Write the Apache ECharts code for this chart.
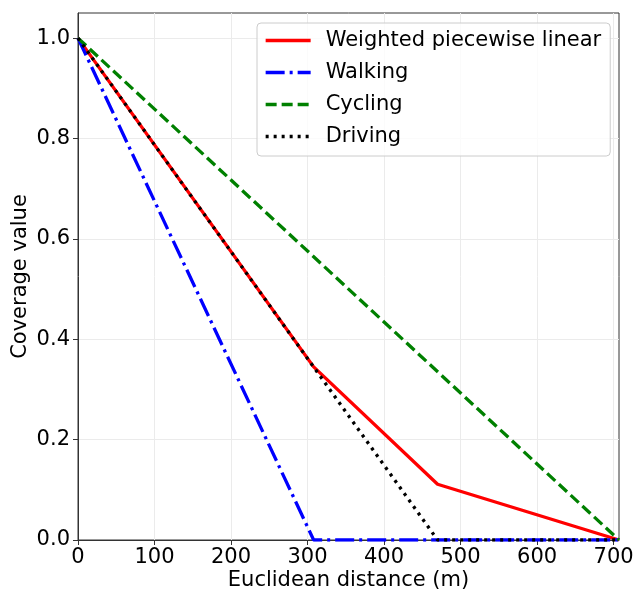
<!DOCTYPE html>
<html>
<head>
<meta charset="utf-8">
<script src="https://cdn.jsdelivr.net/npm/echarts@6/dist/echarts.min.js"></script>
<style>
  html, body { margin: 0; padding: 0; background: #fff; }
  #chart { width: 633px; height: 593px; }
</style>
</head>
<body>
<div id="chart"></div>
<script>
// Coverage decay curves versus Euclidean distance (metres)
const seriesNames = ['Weighted piecewise linear', 'Walking', 'Cycling', 'Driving'];
const weightedX = [0, 308, 470, 707.1];
const weightedY = [1.0, 0.345, 0.111, 0.0];
const walkingX = [0, 308, 707.1];
const walkingY = [1.0, 0.0, 0.0];
const cyclingX = [0, 707.1];
const cyclingY = [1.0, 0.0];
const drivingX = [0, 470, 707.1];
const drivingY = [1.0, 0.0, 0.0];
const xTicks = [0, 100, 200, 300, 400, 500, 600, 700];
const yTicks = [0.0, 0.2, 0.4, 0.6, 0.8, 1.0];

const pairs = (xs, ys) => xs.map((x, i) => [x, ys[i]]);
const FONT = 'DejaVu Sans';
const LW = 3.3;

const chart = echarts.init(document.getElementById('chart'), null, { renderer: 'canvas' });

function lineSeries(name, data, color, type) {
  return {
    name: name,
    type: 'line',
    data: data,
    showSymbol: false,
    symbol: 'none',
    smooth: false,
    animation: false,
    lineStyle: { color: color, width: LW, type: type, cap: 'butt' },
    itemStyle: { color: color },
    emphasis: { disabled: true }
  };
}

chart.setOption({
  animation: false,
  backgroundColor: '#ffffff',
  grid: {
    left: 78, right: 14, top: 13, bottom: 53,
    outerBoundsMode: 'none', containLabel: false,
    show: true, borderColor: '#333333', borderWidth: 1, backgroundColor: 'transparent'
  },
  legend: {
    orient: 'vertical',
    left: 257, top: 23,
    itemWidth: 45, itemHeight: 20, itemGap: 11,
    padding: [7, 9, 9, 7],
    backgroundColor: 'rgba(255,255,255,0.8)',
    borderColor: '#cccccc', borderWidth: 1, borderRadius: 4,
    itemStyle: { opacity: 0 },
    lineStyle: { width: LW },
    textStyle: { fontFamily: FONT, fontSize: 21, color: '#000', padding: [0, 0, 0, 10] },
    data: seriesNames
  },
  xAxis: {
    type: 'value',
    min: 0, max: 707.1, interval: 100,
    name: 'Euclidean distance (m)',
    nameLocation: 'middle', nameGap: 30, nameMoveOverlap: false,
    nameTextStyle: { fontFamily: FONT, fontSize: 21, color: '#000' },
    axisLine: { show: true, lineStyle: { color: '#333333', width: 1 } },
    axisTick: { show: true, inside: false, length: 5, customValues: xTicks, lineStyle: { color: '#333333' } },
    axisLabel: { fontFamily: FONT, fontSize: 21, color: '#000', margin: 7, customValues: xTicks,
      formatter: v => String(Math.round(v)) },
    splitLine: { show: true, lineStyle: { color: '#ebebeb', width: 1 } }
  },
  yAxis: {
    type: 'value',
    min: 0, max: 1.05, interval: 0.2,
    name: 'Coverage value',
    nameLocation: 'middle', nameGap: 47, nameRotate: 90, nameMoveOverlap: false,
    nameTextStyle: { fontFamily: FONT, fontSize: 21, color: '#000' },
    axisLine: { show: true, lineStyle: { color: '#333333', width: 1 } },
    axisTick: { show: true, inside: false, length: 5, customValues: yTicks, lineStyle: { color: '#333333' } },
    axisLabel: { fontFamily: FONT, fontSize: 21, color: '#000', margin: 8, customValues: yTicks,
      formatter: v => v.toFixed(1) },
    splitLine: { show: true, lineStyle: { color: '#ebebeb', width: 1 } }
  },
  series: [
    lineSeries(seriesNames[0], pairs(weightedX, weightedY), '#ff0000', 'solid'),
    lineSeries(seriesNames[1], pairs(walkingX, walkingY), '#0000ff', [19, 5, 3, 5]),
    lineSeries(seriesNames[2], pairs(cyclingX, cyclingY), '#008000', [11, 5]),
    lineSeries(seriesNames[3], pairs(drivingX, drivingY), '#000000', [3, 5])
  ]
});
</script>
</body>
</html>
